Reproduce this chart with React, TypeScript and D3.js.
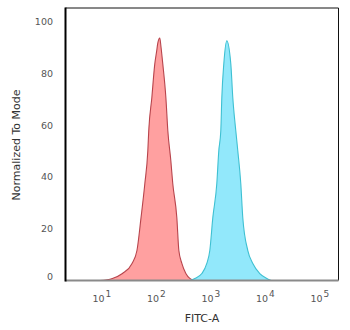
import React, { useEffect, useRef } from "react";
import * as d3 from "d3";

// isotype control (red) - FITC-A value vs normalized count
const redFitc = [10, 17, 26, 39, 48, 57, 67, 76, 79, 90, 102, 110, 116, 126, 132, 143, 163, 177, 201, 218, 259, 282, 320, 379, 448, 553];
const redCount = [0, 0.8, 2.7, 6.6, 11.6, 24.3, 37.5, 50.2, 57.9, 70.7, 83.8, 88.5, 91.9, 93.8, 90.7, 83.8, 70.7, 57.9, 46.3, 37.5, 24.3, 11.6, 6.6, 2.7, 0.8, 0];

// stained sample (blue)
const blueFitc = [450, 553, 745, 919, 1043, 1184, 1402, 1525, 1660, 1732, 1884, 2138, 2533, 2756, 3128, 3404, 3861, 4203, 5197, 6417, 8623, 11590, 14000];
const blueCount = [0, 0.8, 2.7, 6.6, 11.6, 24.3, 37.5, 50.2, 57.9, 70.7, 83.8, 92.7, 83.8, 70.7, 57.9, 50.2, 37.5, 24.3, 11.6, 6.6, 2.7, 0.8, 0];

const yTicks = [0, 20, 40, 60, 80, 100];
const xDecades = [1, 2, 3, 4, 5];

const App = () => {
  const ref = useRef(null);

  useEffect(() => {
    const svg = d3.select(ref.current);
    svg.selectAll("*").remove();

    const left = 65.5, right = 338.5, top = 8, bottom = 280.5;
    const x = d3.scaleLog().domain([Math.pow(10, 0.37), Math.pow(10, 5.38)]).range([left, right]);
    const y = d3.scaleLinear().domain([0, 105.4]).range([bottom, top]);
    const font = "DejaVu Sans, sans-serif";

    const area = d3.area()
      .x((d) => x(d[0]))
      .y0(y(0))
      .y1((d) => y(d[1]))
      .curve(d3.curveMonotoneX);
    const line = d3.line()
      .x((d) => x(d[0]))
      .y((d) => y(d[1]))
      .curve(d3.curveMonotoneX);

    const series = [
      { xs: redFitc, ys: redCount, fill: "#ffa0a0", stroke: "#b8444c" },
      { xs: blueFitc, ys: blueCount, fill: "#92e8fb", stroke: "#3ec0d2" },
    ];

    series.forEach((s) => {
      const pts = s.xs.map((v, i) => [v, s.ys[i]]);
      svg.append("path").attr("d", area(pts)).attr("fill", s.fill);
      svg.append("path").attr("d", line(pts))
        .attr("fill", "none")
        .attr("stroke", s.stroke)
        .attr("stroke-width", 1.1);
    });

    // frame
    svg.append("line").attr("x1", left).attr("x2", right).attr("y1", top).attr("y2", top)
      .attr("stroke", "#111").attr("stroke-width", 1);
    svg.append("line").attr("x1", right).attr("x2", right).attr("y1", top).attr("y2", bottom)
      .attr("stroke", "#111").attr("stroke-width", 1);
    svg.append("line").attr("x1", left).attr("x2", right).attr("y1", bottom).attr("y2", bottom)
      .attr("stroke", "#8a8a8a").attr("stroke-width", 2);
    svg.append("line").attr("x1", left).attr("x2", left).attr("y1", top - 0.5).attr("y2", bottom + 1)
      .attr("stroke", "#000").attr("stroke-width", 2);

    // y ticks
    svg.selectAll(".ytick")
      .data(yTicks)
      .enter()
      .append("text")
      .attr("class", "ytick")
      .attr("x", 53)
      .attr("y", (d) => y(d) - (d === 0 ? 4 : 0))
      .attr("dy", "0.35em")
      .attr("text-anchor", "end")
      .style("font-family", font)
      .style("font-size", "9.5px")
      .style("fill", "#555")
      .text((d) => d);

    // x ticks
    const xt = svg.selectAll(".xtick")
      .data(xDecades)
      .enter()
      .append("text")
      .attr("class", "xtick")
      .attr("x", (d) => x(Math.pow(10, d)) + 2)
      .attr("y", 302)
      .attr("text-anchor", "middle")
      .style("font-family", font)
      .style("font-size", "9.5px")
      .style("fill", "#555");
    xt.append("tspan").text("10");
    xt.append("tspan").attr("dy", -5).attr("dx", 1).style("font-size", "9px").text((d) => d);

    svg.append("text")
      .attr("x", 202)
      .attr("y", 322)
      .attr("text-anchor", "middle")
      .style("font-family", font)
      .style("font-size", "11px")
      .style("fill", "#333")
      .text("FITC-A");

    svg.append("text")
      .attr("transform", "translate(19.5,145) rotate(-90)")
      .attr("text-anchor", "middle")
      .style("font-family", font)
      .style("font-size", "11px")
      .style("fill", "#333")
      .text("Normalized To Mode");
  }, []);

  return (
    <svg
      ref={ref}
      width={350}
      height={330}
      style={{ position: "absolute", left: 0, top: 0, background: "#fff" }}
    />
  );
};

export default App;
